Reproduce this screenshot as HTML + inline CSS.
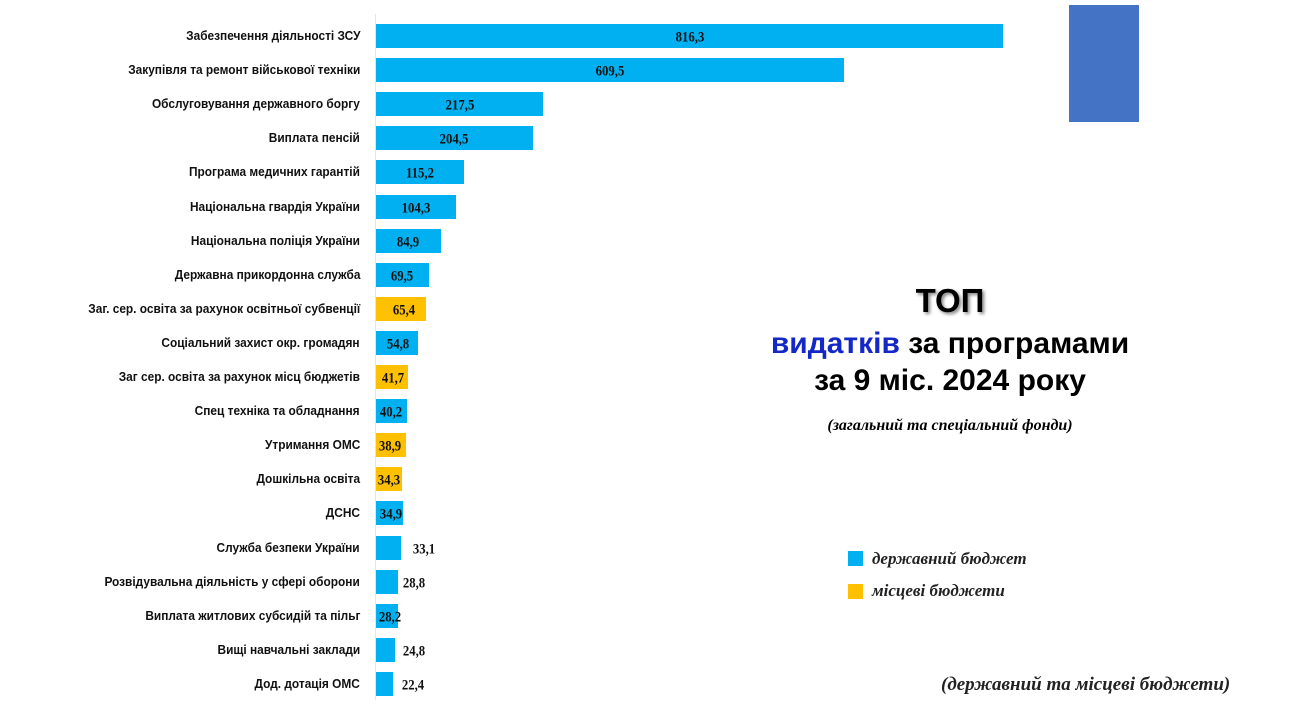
<!DOCTYPE html>
<html><head><meta charset="utf-8"><style>
body{margin:0;width:1300px;height:728px;background:#fff;position:relative;overflow:hidden;font-family:"Liberation Sans",sans-serif}
.l{position:absolute;right:940px;font-family:"Liberation Sans Narrow","Liberation Sans",sans-serif;font-weight:bold;font-size:12.5px;color:#111;white-space:nowrap;transform:translateY(-50%) scaleX(0.95);transform-origin:right center}
.b{position:absolute;left:376px;height:24px;background:#00B0F0}
.y{background:#FFC000}
.v{position:absolute;font-family:"Liberation Serif",serif;font-weight:bold;font-size:15px;color:#111;transform:translate(-50%,-50%) scaleX(0.85);white-space:nowrap}
.t{position:absolute;left:700px;width:500px;text-align:center;font-weight:bold;color:#000}
</style></head><body>
<div style="position:absolute;left:375px;top:14px;width:1px;height:686px;background:#dfe8e8"></div>
<div style="position:absolute;left:1069px;top:5px;width:70px;height:117px;background:#4472C4"></div>
<div id="c"></div>
<div class="t" style="top:282px;font-size:33px;text-shadow:2px 2px 3px #888">ТОП</div>
<div class="t" style="top:327px;font-size:30px"><span style="color:#1428C8">видатків</span> за програмами</div>
<div class="t" style="top:364px;font-size:30px">за 9 міс. 2024 року</div>
<div class="t" style="top:417px;font-size:16px;font-family:'Liberation Serif',serif;font-style:italic">(загальний та спеціальний фонди)</div>
<div style="position:absolute;left:848px;top:551px;width:15px;height:15px;background:#00B0F0"></div>
<div style="position:absolute;left:872px;top:549px;font-family:'Liberation Serif',serif;font-style:italic;font-weight:bold;font-size:17px;color:#222">державний бюджет</div>
<div style="position:absolute;left:848px;top:584px;width:15px;height:15px;background:#FFC000"></div>
<div style="position:absolute;left:872px;top:581px;font-family:'Liberation Serif',serif;font-style:italic;font-weight:bold;font-size:17px;color:#222">місцеві бюджети</div>
<div style="position:absolute;left:941px;top:674px;font-family:'Liberation Serif',serif;font-style:italic;font-weight:bold;font-size:19px;color:#222">(державний та місцеві бюджети)</div>
<script>
var d=[["Забезпечення діяльності ЗСУ",816.3,0,690],["Закупівля та ремонт військової техніки",609.5,0,610],["Обслуговування державного боргу",217.5,0,460],["Виплата пенсій",204.5,0,454],["Програма медичних гарантій",115.2,0,420],["Національна гвардія України",104.3,0,416],["Національна поліція України",84.9,0,408],["Державна прикордонна служба",69.5,0,402],["Заг. сер. освіта за рахунок освітньої субвенції",65.4,1,404],["Соціальний захист окр. громадян",54.8,0,398],["Заг сер. освіта за рахунок місц бюджетів",41.7,1,393],["Спец техніка та обладнання",40.2,0,391],["Утримання ОМС",38.9,1,390],["Дошкільна освіта",34.3,1,389],["ДСНС",34.9,0,391],["Служба безпеки України",33.1,0,424],["Розвідувальна діяльність у сфері оборони",28.8,0,414],["Виплата житлових субсидій та пільг",28.2,0,390],["Вищі навчальні заклади",24.8,0,414],["Дод. дотація ОМС",22.4,0,413]];
var h="";d.forEach(function(r,i){var c=36+i*34.1;
h+='<div class="l" style="top:'+c+'px">'+r[0]+'</div>';
h+='<div class="b'+(r[2]?' y':'')+'" style="top:'+(c-12)+'px;width:'+(r[1]*0.768)+'px"></div>';
h+='<div class="v" style="left:'+r[3]+'px;top:'+(c+2)+'px">'+String(r[1]).replace(".",",")+'</div>';});
document.getElementById("c").innerHTML=h;
</script>
</body></html>
